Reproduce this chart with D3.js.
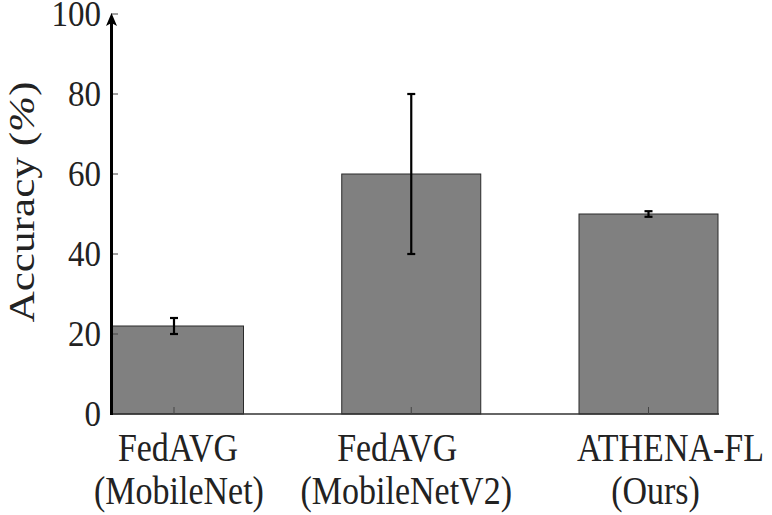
<!DOCTYPE html>
<html>
<head>
<meta charset="utf-8">
<script src="https://cdn.jsdelivr.net/npm/d3@7/dist/d3.min.js"></script>
<style>
  html, body { margin: 0; padding: 0; background: #fff; }
</style>
</head>
<body>
<svg id="chart" width="772" height="515"></svg>
<script>
// Methods compared (two label lines each)
const methodLine1 = ["FedAVG", "FedAVG", "ATHENA-FL"];
const methodLine2 = ["(MobileNet)", "(MobileNetV2)", "(Ours)"];
// Mean accuracy (%) and error-bar extents
const accuracy = [22, 60, 50];
const errLow = [20, 40, 49.3];
const errHigh = [24, 80, 50.7];
const yTicks = [0, 20, 40, 60, 80, 100];

// horizontal nudges of each label line relative to its bar
const line1Shift = [4, -14, 22];
const line2Shift = [5, -5, 7];

const FONT = "'Liberation Serif', 'Times New Roman', Times, serif";

const svg = d3.select("#chart")
  .attr("font-family", FONT);

const x = d3.scaleLinear().domain([0, 2]).range([174, 648.5]);
const y = d3.scaleLinear().domain([0, 100]).range([414, 14]);
const barW = 139;
const xLeft = 111, xRight = 719;

// clip so the first bar does not extend past the y axis
svg.append("defs").append("clipPath").attr("id", "plotClip")
  .append("rect").attr("x", xLeft).attr("y", 0).attr("width", xRight - xLeft + 2).attr("height", y(0) + 1);

const idx = d3.range(accuracy.length);

// bars
svg.append("g").attr("clip-path", "url(#plotClip)")
  .selectAll("rect").data(idx).join("rect")
  .attr("x", i => x(i) - barW / 2)
  .attr("y", i => y(accuracy[i]))
  .attr("width", barW)
  .attr("height", i => y(0) - y(accuracy[i]))
  .attr("fill", "#808080")
  .attr("stroke", "#2a2a2a")
  .attr("stroke-width", 1);

// x axis baseline and inward ticks
svg.append("line")
  .attr("x1", xLeft).attr("x2", xRight)
  .attr("y1", y(0)).attr("y2", y(0))
  .attr("stroke", "#333").attr("stroke-width", 1.5);
svg.append("g").selectAll("line").data(idx).join("line")
  .attr("x1", i => x(i)).attr("x2", i => x(i))
  .attr("y1", y(0)).attr("y2", y(0) - 7)
  .attr("stroke", "#444").attr("stroke-width", 1);

// y ticks (inward) and labels
const yg = svg.append("g");
yg.selectAll("line").data(yTicks).join("line")
  .attr("x1", xLeft).attr("x2", xLeft + 7)
  .attr("y1", d => y(d)).attr("y2", d => y(d))
  .attr("stroke", "#444").attr("stroke-width", 1);
yg.selectAll("text").data(yTicks).join("text")
  .attr("transform", d => `translate(101,${y(d) + 12}) scale(1,1.08)`)
  .attr("text-anchor", "end")
  .attr("font-size", 33)
  .attr("fill", "#222")
  .text(d => d);

// y axis with arrow head
svg.append("line")
  .attr("x1", xLeft + 0.5).attr("x2", xLeft + 0.5)
  .attr("y1", y(0) + 1).attr("y2", y(100) + 8)
  .attr("stroke", "#000").attr("stroke-width", 3);
svg.append("path")
  .attr("d", `M${xLeft + 0.5},${y(100) - 1} L${xLeft - 5},${y(100) + 12} L${xLeft + 0.5},${y(100) + 9} L${xLeft + 6},${y(100) + 12} Z`)
  .attr("fill", "#000");

// error bars
const eb = svg.append("g").attr("stroke", "#000").attr("stroke-width", 2.2);
eb.selectAll("line.v").data(idx).join("line").attr("class", "v")
  .attr("x1", i => x(i)).attr("x2", i => x(i))
  .attr("y1", i => y(errLow[i])).attr("y2", i => y(errHigh[i]));
eb.selectAll("line.t").data(idx).join("line").attr("class", "t")
  .attr("x1", i => x(i) - 4).attr("x2", i => x(i) + 4)
  .attr("y1", i => y(errHigh[i])).attr("y2", i => y(errHigh[i]));
eb.selectAll("line.b").data(idx).join("line").attr("class", "b")
  .attr("x1", i => x(i) - 4).attr("x2", i => x(i) + 4)
  .attr("y1", i => y(errLow[i])).attr("y2", i => y(errLow[i]));

// category labels (tall serif, two lines)
const lab = svg.append("g").attr("font-size", 34).attr("text-anchor", "middle").attr("fill", "#222");
lab.selectAll("text.l1").data(idx).join("text").attr("class", "l1")
  .attr("transform", i => `translate(${x(i) + line1Shift[i]},461) scale(1,1.18)`)
  .text(i => methodLine1[i]);
lab.selectAll("text.l2").data(idx).join("text").attr("class", "l2")
  .attr("transform", i => `translate(${x(i) + line2Shift[i]},504) scale(1,1.18)`)
  .text(i => methodLine2[i]);

// y axis title
const yt = svg.append("text")
  .attr("transform", `translate(34,${y(53)}) rotate(-90) scale(1.2,1)`)
  .attr("text-anchor", "middle")
  .attr("font-size", 36)
  .attr("fill", "#222");
yt.append("tspan").text("Accuracy (");
yt.append("tspan").attr("font-style", "italic").text("%");
yt.append("tspan").text(")");
</script>
</body>
</html>
